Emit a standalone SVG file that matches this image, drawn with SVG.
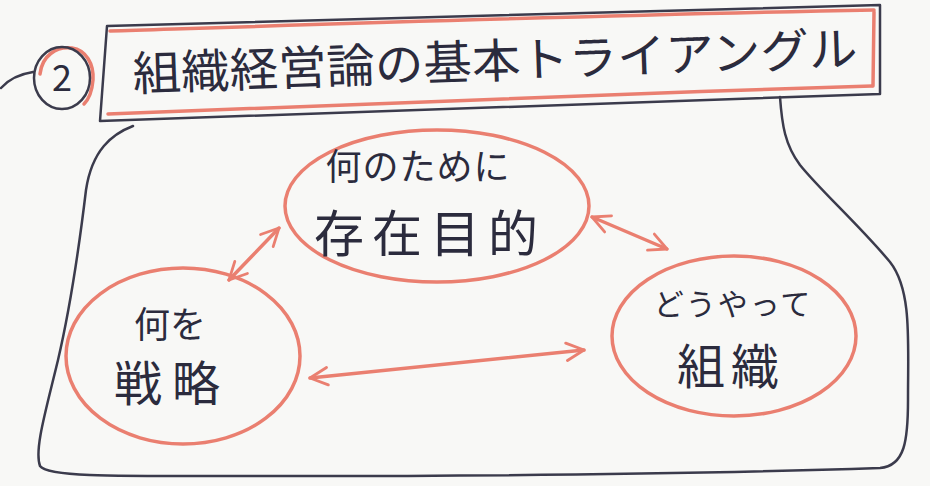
<svg xmlns="http://www.w3.org/2000/svg" width="930" height="486" viewBox="0 0 930 486">
<style>
.bg{fill:#f8f8f6}
.dark{fill:none;stroke:#3b3b4c;stroke-width:2.5;stroke-linecap:round;stroke-linejoin:round}
.red{fill:none;stroke:#ea7f70;stroke-width:3.5;stroke-linecap:round;stroke-linejoin:round}
.txt{font-family:"Noto Sans CJK JP","Noto Sans",sans-serif;fill:#2b2b3d;font-weight:400;text-anchor:middle}
</style>
<defs>
<marker id="ah" viewBox="0 0 12 12" refX="11" refY="6" markerWidth="6" markerHeight="6" orient="auto-start-reverse" markerUnits="strokeWidth">
<path d="M1,1 L11,6 L1,11" fill="none" stroke="#ea7f70" stroke-width="1.6" stroke-linecap="round" stroke-linejoin="round"/>
</marker>
</defs>
<rect class="bg" x="0" y="0" width="930" height="486"/>
<g id="frame">
<path class="dark" d="M133,126 C112,134 92,150 86,190 C80,240 72,300 58,360 C46,410 34,450 40,466 C48,478 120,476 300,476 C500,476 700,474 880,468 C905,466 908,440 908,400 C908,340 912,290 890,262 C860,226 820,190 800,165 C785,145 782,125 780,97"/>
<path class="dark" d="M33,72 C20,74 8,80 1,88"/>
</g>
<g id="title">
<path class="dark" d="M107,26 L880,5 L880,94 L100,121 Z"/>
<path class="red" d="M110,31 C300,25 600,15 874,10"/>
<path class="red" d="M108,114 C300,106 600,94 872,86"/>
<path class="red" d="M874,12 L873,86"/>
<path class="red" d="M40,74 C42,56 56,46 72,48 C86,50 94,64 93,80 C92,92 88,100 84,104"/>
<ellipse class="dark" cx="62" cy="78" rx="28" ry="31"/>
<text class="txt" x="62" y="91" font-size="36">2</text>
<text class="txt" x="495" y="78" font-size="47" textLength="725" lengthAdjust="spacingAndGlyphs" transform="rotate(-2 495 60)">組織経営論の基本トライアングル</text>
</g>
<g id="node-purpose">
<ellipse class="red" cx="437" cy="206" rx="152" ry="76"/>
<text class="txt" x="418" y="180" font-size="36" letter-spacing="1">何のために</text>
<text class="txt" x="430" y="252" font-size="50" letter-spacing="8">存在目的</text>
</g>
<g id="node-strategy">
<ellipse class="red" cx="183" cy="356" rx="117" ry="88"/>
<text class="txt" x="170" y="338" font-size="36">何を</text>
<text class="txt" x="172" y="401" font-size="48" letter-spacing="10">戦略</text>
</g>
<g id="node-organization">
<ellipse class="red" cx="734" cy="336" rx="122" ry="80"/>
<text class="txt" x="733" y="315" font-size="30" letter-spacing="2">どうやって</text>
<text class="txt" x="731" y="384" font-size="48" letter-spacing="6">組織</text>
</g>
<g id="connectors">
<line class="red" x1="279" y1="228" x2="229" y2="280" marker-start="url(#ah)" marker-end="url(#ah)"/>
<line class="red" x1="592" y1="217" x2="667" y2="249" marker-start="url(#ah)" marker-end="url(#ah)"/>
<line class="red" x1="310" y1="378" x2="584" y2="350" marker-start="url(#ah)" marker-end="url(#ah)"/>
</g>
</svg>
